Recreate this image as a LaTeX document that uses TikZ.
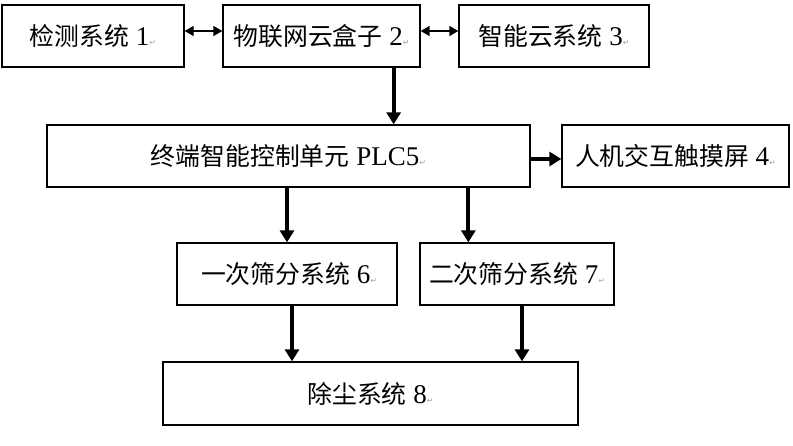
\documentclass[tikz,border=0pt]{standalone}
\usepackage{fontspec}
\setmainfont{Liberation Serif}
\newfontfamily\cjk{Noto Sans CJK SC}[Scale=0.92]
\newfontfamily\symf{DejaVu Sans}
\usetikzlibrary{arrows.meta,calc}
\newcommand{\pmark}{{\symf\fontsize{8}{8}\selectfont\color{gray!70}↵}}
\begin{document}
\begin{tikzpicture}[x=1pt,y=-1pt,
  box/.style={draw=black,line width=1.3pt,rectangle,inner sep=0pt,font=\fontsize{27}{29}\selectfont},
  thickarrow/.style={line width=3.8pt,-{Triangle[length=12pt,width=14pt]}},
  duoarrow/.style={line width=1.4pt,{Triangle[length=9pt,width=10pt]}-{Triangle[length=9pt,width=10pt]}}]
\useasboundingbox (0,0) rectangle (793,446);
\node[box,minimum width=182pt,minimum height=62pt] (b1) at (93,36) {{\cjk 检测系统} 1\pmark};
\node[box,minimum width=197pt,minimum height=62pt] (b2) at (321.5,36) {{\cjk 物联网云盒子} 2\pmark};
\node[box,minimum width=190pt,minimum height=62pt] (b3) at (554,36) {{\cjk 智能云系统} 3\pmark};
\node[box,minimum width=483pt,minimum height=62pt] (plc) at (288.5,156) {{\cjk 终端智能控制单元} PLC5\pmark};
\node[box,minimum width=227pt,minimum height=62pt] (b4) at (675.5,156) {{\cjk 人机交互触摸屏} 4\pmark};
\node[box,minimum width=220pt,minimum height=62pt] (b6) at (287,274) {\hspace*{4pt}{\cjk 一次筛分系统} 6\pmark};
\node[box,minimum width=194pt,minimum height=62pt] (b7) at (517,274) {{\cjk 二次筛分系统} 7\pmark};
\node[box,minimum width=415pt,minimum height=63pt] (b8) at (370.5,393.5) {{\cjk 除尘系统} 8\pmark};
\coordinate (c2) at ([xshift=-27pt]b2.south east);
\coordinate (c7) at ([xshift=49pt]b7.north west);
\coordinate (c6) at ([xshift=5pt]b6.south);
\coordinate (c7b) at ([xshift=5pt]b7.south);
\draw[duoarrow] ([yshift=5pt]b1.east) -- ([yshift=5pt]b2.west);
\draw[duoarrow] ([yshift=5pt]b2.east) -- ([yshift=5pt]b3.west);
\draw[thickarrow] (c2) -- (c2 |- plc.north);
\draw[thickarrow] ([yshift=-3pt]plc.east) -- ([yshift=-3pt]b4.west);
\draw[thickarrow] (plc.south -| b6.north) -- (b6.north);
\draw[thickarrow] (c7 |- plc.south) -- (c7);
\draw[thickarrow] (c6) -- (c6 |- b8.north);
\draw[thickarrow] (c7b) -- (c7b |- b8.north);
\end{tikzpicture}
\end{document}
